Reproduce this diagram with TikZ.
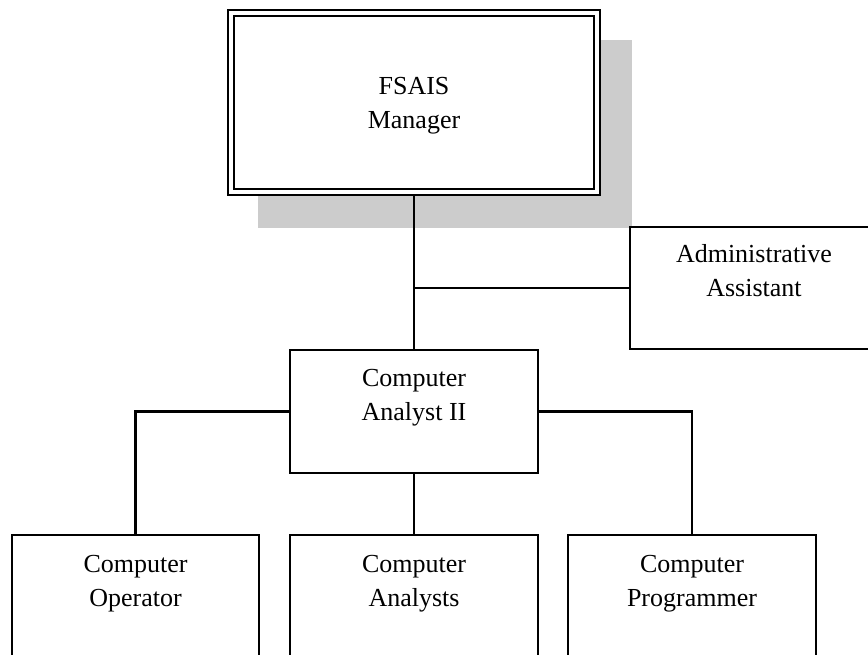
\documentclass[tikz,border=0pt]{standalone}
\usepackage{fontspec}
\setmainfont{Liberation Serif}
\usetikzlibrary{backgrounds}
\definecolor{shadowgray}{RGB}{204,204,204}
\begin{document}
\begin{tikzpicture}[x=1pt,y=-1pt,
  box/.style={draw=black, line width=2.1pt, fill=white, rectangle, inner sep=0pt},
  headbox/.style={box, line width=2pt, double=white, double distance=3.8pt},
  label/.style={inner sep=0pt, align=center, font=\fontsize{26}{34}\selectfont},
  link/.style={draw=black, line width=2.1pt},
  shade/.style={fill=shadowgray}]
\clip (0,0) rectangle (868,654);

% boxes
\node[headbox, minimum width=366pt, minimum height=179pt] (mgr) at (414,102.5) {};
\node[box, minimum width=248pt, minimum height=122pt] (adm) at (754,288) {};
\node[box, minimum width=248pt, minimum height=123pt] (ca) at (414,411.5) {};
\node[box, minimum width=247pt, minimum height=123pt] (op) at (135.5,596.5) {};
\node[box, minimum width=248pt, minimum height=123pt] (an) at (414,596.5) {};
\node[box, minimum width=248pt, minimum height=123pt] (pr) at (692,596.5) {};

% labels
\node[label] (mgrtext) at (414,106) {FSAIS\\Manager};
\node[label] (admtext) at (754,271) {Administrative\\Assistant};
\node[label] (catext) at (414,397.5) {Computer\\Analyst II};
\node[label] (optext) at (135.5,583.5) {Computer\\Operator};
\node[label] (antext) at (414,583.5) {Computer\\Analysts};
\node[label] (prtext) at (692,583.5) {Computer\\Programmer};

\begin{scope}[on background layer]
  % drop shadow behind the manager box
  \path[shade] (258,40) rectangle (632,228);
  % reporting lines
  \draw[link] (mgr.south) -- (ca.north);
  \draw[link] (mgr.south |- adm.west) -- (adm.west);
  \draw[link] (ca.west) -| (op.north);
  \draw[link] (ca.east) -| (pr.north);
  \draw[link] (ca.south) -- (an.north);
\end{scope}
\end{tikzpicture}
\end{document}
